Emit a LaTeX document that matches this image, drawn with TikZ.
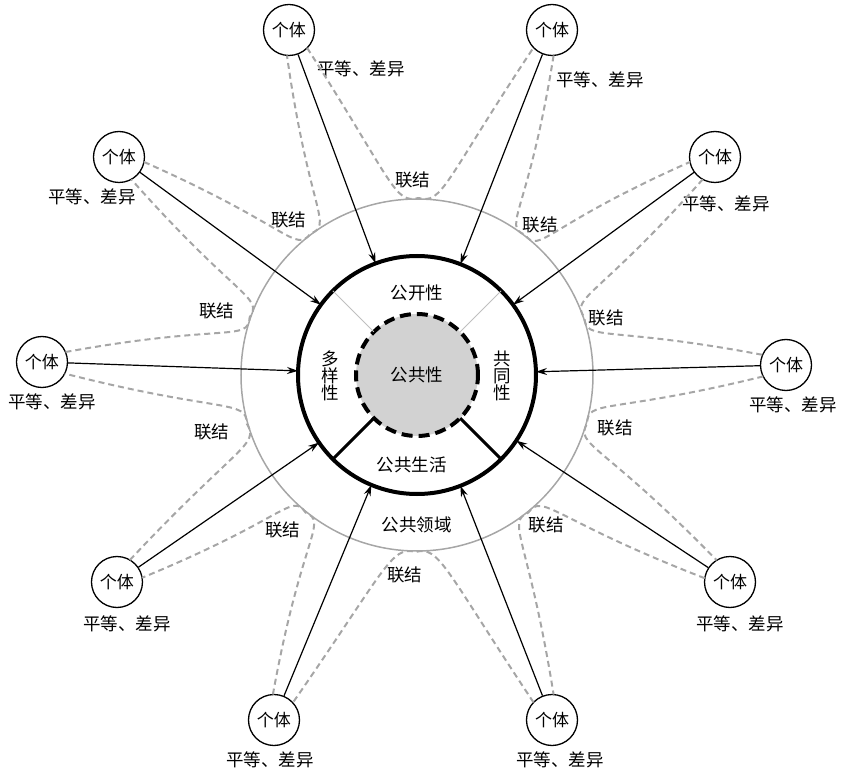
\documentclass[tikz,border=0pt]{standalone}
\usepackage{fontspec}
\setmainfont{Noto Sans CJK SC}
\usetikzlibrary{calc,arrows.meta}
\begin{document}
\begin{tikzpicture}[x=1pt,y=1pt,
  indiv/.style={circle,draw,line width=1.3pt,minimum size=51pt,inner sep=0pt,font=\fontsize{17}{19}\selectfont},
  lbl/.style={font=\fontsize{17.5}{20}\selectfont},
  linkstyle/.style={draw=gray!70,line width=2pt,dash pattern=on 6pt off 4pt}]
\useasboundingbox (-417,-404) rectangle (429,375);
\coordinate (O) at (0,0);
\draw[gray!70,line width=1.5pt] (O) circle (176);
\fill[gray!35] (O) circle (61);
\draw[line width=4pt,dash pattern=on 11pt off 6pt] (O) circle (61);
\draw[line width=4pt] (O) circle (119);
\draw[gray!50,line width=1pt] (135:61) -- (135:119) (45:61) -- (45:119);
\draw[line width=3pt] (225:61) -- (225:119) (315:61) -- (315:119);
\node[lbl] (t1) at (0,82) {公开性};
\node[lbl,align=center,inner sep=0pt] (t2) at (-87,-1) {多\\[-3pt]样\\[-3pt]性};
\node[lbl,align=center,inner sep=0pt] (t3) at (85,-1) {共\\[-3pt]同\\[-3pt]性};
\node[lbl] (t4) at (0,0) {公共性};
\node[lbl] (t5) at (-5,-90) {公共生活};
\node[lbl] (t6) at (0,-150) {公共领域};
\foreach \i/\x/\y/\lx/\ly in {1/-128/345/-56/306, 2/135/345/183/295, 3/-298/218/-325/178, 4/298/218/309/171, 5/-375/13/-365/-27, 6/369/10/376/-30, 7/-300/-207/-290/-249, 8/313/-207/323/-249, 9/-143/-345/-147/-385, 10/135/-345/143/-385}{
  \node[indiv] (n\i) at (\x,\y) {个体};
  \node[lbl] (d\i) at (\lx,\ly) {平等、差异};
  \coordinate (e\i) at ($(O)!119pt!(n\i)$);
}
\foreach \a/\b/\m/\k/\lx/\ly in {1/2/89.5/a/-4/195, 3/1/127/b/-128/155, 5/3/161/c/-200/64, 7/5/196/d/-205/-57, 9/7/231/e/-134/-155, 10/9/269.5/f/-12/-200, 8/10/309/g/129/-150, 6/8/344/h/198/-53, 4/6/19/i/189/57, 2/4/52.4/j/123/150}{
  \node[lbl] (l\k) at (\lx,\ly) {联结};
  \draw[linkstyle] ($(n\a)!25.5pt!25:(O)$) .. controls ($(n\a)!0.5!14:(O)$) and ({\m+8}:172) .. (\m:177)
     .. controls ({\m-8}:172) and ($(n\b)!0.5!-14:(O)$) .. ($(n\b)!25.5pt!-25:(O)$);
}
\foreach \i in {1,...,10}{\draw[-{Stealth[length=11pt,width=7pt]},line width=1.2pt] (n\i) -- (e\i);}
\end{tikzpicture}
\end{document}
